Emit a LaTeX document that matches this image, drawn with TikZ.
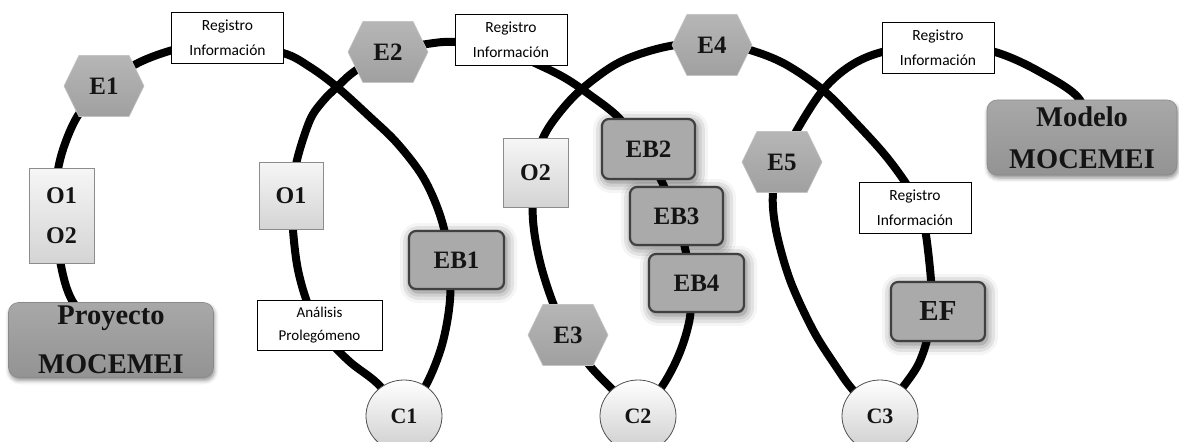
\documentclass[tikz,border=0pt]{standalone}
\usepackage{fontspec}
\setmainfont{Liberation Serif}
\newfontfamily\regfont{Carlito}
\usetikzlibrary{shapes.symbols,shapes.geometric,shadows.blur}
\definecolor{hexTop}{HTML}{B6B6B6}
\definecolor{hexBot}{HTML}{A0A0A0}
\definecolor{hexEdge}{HTML}{C4C4C4}
\definecolor{oTop}{HTML}{F6F6F6}
\definecolor{oBot}{HTML}{D4D4D4}
\definecolor{oEdge}{HTML}{8C8C8C}
\definecolor{ebFill}{HTML}{AAAAAA}
\definecolor{ebEdge}{HTML}{404040}
\definecolor{cBot}{HTML}{CDCDCD}
\definecolor{cEdge}{HTML}{505050}
\definecolor{bigTop}{HTML}{A8A8A8}
\definecolor{bigBot}{HTML}{939393}
\definecolor{bigEdge}{HTML}{8A8A8A}
\definecolor{txt}{HTML}{141414}
\pgfdeclarelayer{back}
\pgfsetlayers{back,main}
\tikzset{
 loopline/.style={line width=8pt, black, line cap=round},
 hexa/.style={signal, signal to=west and east, signal pointer angle=128,
   minimum width=80pt, minimum height=61pt, inner sep=0pt,
   top color=hexTop, bottom color=hexBot, draw=hexEdge, line width=0.6pt,
   text=txt, font=\bfseries\fontsize{25}{30}\selectfont},
 obox/.style={rectangle, top color=oTop, bottom color=oBot, draw=oEdge,
   line width=0.8pt, inner sep=0pt, align=center, text=txt,
   font=\bfseries\fontsize{24}{40}\selectfont},
 ebox/.style={rectangle, rounded corners=7pt, fill=ebFill, draw=ebEdge,
   line width=2.2pt, minimum width=94pt, minimum height=58pt, inner sep=0pt,
   text=txt, font=\bfseries\fontsize{25}{30}\selectfont,
   blur shadow={shadow xshift=2pt, shadow yshift=-3pt, shadow blur radius=11pt, shadow opacity=60}},
 cnode/.style={ellipse, minimum width=76pt, minimum height=72pt, inner sep=0pt,
   top color=white, bottom color=cBot, draw=cEdge, line width=0.8pt,
   text=txt, font=\bfseries\fontsize{22}{26}\selectfont},
 regbox/.style={rectangle, fill=white, draw=black, line width=0.8pt,
   inner sep=0pt, align=center, minimum width=112pt, minimum height=51pt,
   font=\regfont\fontsize{15.5}{25}\selectfont},
 bigbox/.style={rectangle, rounded corners=10pt, top color=bigTop, bottom color=bigBot,
   draw=bigEdge, line width=0.6pt, inner sep=0pt, align=center, text=txt,
   blur shadow={shadow xshift=1pt, shadow yshift=-3pt, shadow blur radius=4pt, shadow opacity=45}},
}
\begin{document}
\begin{tikzpicture}[x=1pt,y=-1pt]
\useasboundingbox (0,0) rectangle (1179,442);

% big boxes
\node[bigbox, minimum width=205pt, minimum height=75pt, font=\bfseries\fontsize{28.5}{49}\selectfont]
  (proy) at (111,340) {Proyecto\\MOCEMEI};
\node[bigbox, minimum width=190pt, minimum height=75pt, font=\bfseries\fontsize{28.5}{42}\selectfont]
  (modelo) at (1082,137.5) {Modelo\\MOCEMEI};

% objective boxes
\node[obox, minimum width=65pt, minimum height=95pt] (oa) at (61.5,215.5) {O1\\O2};
\node[obox, minimum width=64pt, minimum height=67pt] (ob) at (291,195.5) {O1};
\node[obox, minimum width=65pt, minimum height=69pt] (oc) at (535.5,172.5) {O2};

% hexagons
\node[hexa] (e1) at (104,86) {E1};
\node[hexa] (e2) at (388,52) {E2};
\node[hexa] (e3) at (568,335) {E3};
\node[hexa] (e4) at (712,45) {E4};
\node[hexa] (e5) at (782,162) {E5};

% registro boxes
\node[regbox] (r1) at (227.5,37.5) {Registro\\Información};
\node[regbox] (r2) at (511,40) {Registro\\Información};
\node[regbox] (r3) at (938,48) {Registro\\Información};
\node[regbox] (r4) at (915,207.5) {Registro\\Información};
\node[regbox, minimum width=125pt, minimum height=50pt, font=\regfont\fontsize{15}{23}\selectfont]
  (an) at (319.5,325) {Análisis\\Prolegómeno};

% EB boxes
\node[ebox, minimum width=95pt] (eb1) at (456.5,260) {EB1};
\node[ebox, minimum width=93pt, minimum height=60pt] (eb2) at (648.5,149) {EB2};
\node[ebox, minimum width=93pt] (eb3) at (676.5,216) {EB3};
\node[ebox, minimum width=95pt] (eb4) at (696.5,283) {EB4};
\node[ebox, minimum width=94pt, minimum height=59pt, font=\bfseries\fontsize{29}{32}\selectfont] (ef) at (938,311.5) {EF};

% cycles
\node[cnode] (c1) at (404,416) {C1};
\node[cnode] (c2) at (638,416) {C2};
\node[cnode] (c3) at (880,416) {C3};

\begin{pgfonlayer}{back}
% loop A : Proyecto -> O1/O2 -> E1 -> Registro -> EB1 -> C1
\draw[loopline] plot[smooth, tension=0.55] coordinates {
 (proy.center) (73,302) (59,255) (55,205) (60,160) (77,117) (e1.center) (140,62)
 (185,47) (230,44) (283,53) (310,67) (337,87) (370,117) (397,143) (423,177)
 (440,215) (449,255) (450,300) (442,345) (426,385) (c1.center)};
% loop B : C1 -> Analisis -> O1 -> E2 -> Registro -> EB2..EB4 -> C2
\draw[loopline] plot[smooth, tension=0.55] coordinates {
 (c1.center) (378,384) (350,362) (326,337) (309,307) (298,270) (293,230) (292,195)
 (297,160) (310,120) (323,101) (337,87) (355,71) (e2.center) (427,44) (455,42)
 (500,48) (537,64) (565,78) (590,95) (618,117) (642,148) (662,182) (675,215)
 (685,248) (690,283) (690,317) (680,352) (663,385) (c2.center)};
% loop C : C2 -> E3 -> O2 -> E4 -> Registro -> EF -> C3
\draw[loopline] plot[smooth, tension=0.55] coordinates {
 (c2.center) (613,390) (590,366) (e3.center) (553,303) (540,262) (533,220) (534,172)
 (543,138) (560,112) (583,88) (620,62) (665,47) (712,42) (750,50) (785,64)
 (823,90) (855,122) (885,155) (907,185) (920,210) (926,235) (931,280) (932,311)
 (927,340) (918,365) (903,387) (c3.center)};
% loop D : C3 -> E5 -> Registro -> Modelo
\draw[loopline] plot[smooth, tension=0.55] coordinates {
 (c3.center) (853,390) (835,365) (813,330) (790,280) (776,230) (773,193) (e5.center)
 (797,130) (823,90) (850,66) (882,52) (938,42) (995,52) (1040,72) (1080,100)
 (modelo.center)};
\end{pgfonlayer}
\end{tikzpicture}
\end{document}
